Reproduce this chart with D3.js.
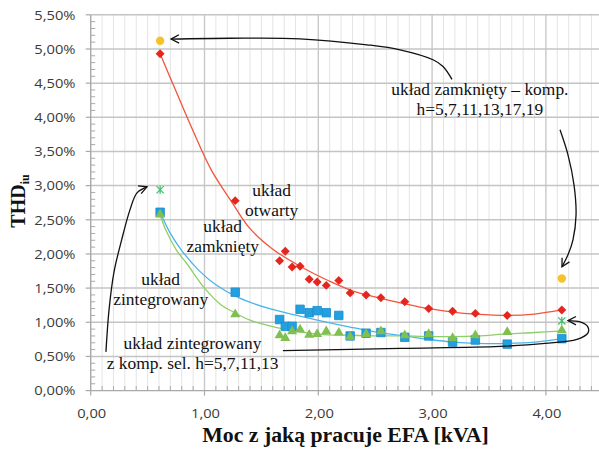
<!DOCTYPE html>
<html><head><meta charset="utf-8">
<script src="https://cdn.jsdelivr.net/npm/d3@7"></script>
<style>html,body{margin:0;padding:0;background:#fff;}svg{display:block;}</style>
</head><body>
<script>
// ---------- DATA ----------
const powerKVA = [0.61, 1.27, 1.66, 1.71, 1.77, 1.84, 1.92, 1.99, 2.07, 2.18, 2.28, 2.42, 2.55, 2.76, 2.97, 3.18, 3.38, 3.66, 4.14];
const thdOpen = [4.93, 2.78, 1.90, 2.04, 1.81, 1.82, 1.63, 1.59, 1.54, 1.61, 1.43, 1.40, 1.36, 1.30, 1.20, 1.16, 1.13, 1.10, 1.18];
const thdClosed = [2.61, 1.44, 1.04, 0.94, 0.94, 1.19, 1.14, 1.17, 1.14, 1.10, 0.80, 0.84, 0.85, 0.78, 0.80, 0.71, 0.74, 0.68, 0.76];
const thdIntegrated = [2.57, 1.11, 0.80, 0.76, 0.86, 0.885, 0.81, 0.82, 0.86, 0.84, 0.78, 0.82, 0.86, 0.80, 0.82, 0.76, 0.80, 0.85, 0.875];
const compPowerKVA = [0.61, 4.14];
const thdIntegratedComp = [2.94, 1.02];
const thdClosedComp = [5.12, 1.64];

// trend lines
const trendOpenX = [0.61, 0.75, 0.90, 1.063, 1.24, 1.40, 1.60, 1.84, 2.10, 2.30, 2.55, 2.76, 2.97, 3.18, 3.38, 3.66, 3.90, 4.14];
const trendOpenY = [4.93, 4.38, 3.80, 3.22, 2.76, 2.37, 2.07, 1.82, 1.60, 1.46, 1.35, 1.27, 1.20, 1.15, 1.12, 1.10, 1.12, 1.18];
const trendClosedX = [0.61, 0.70, 0.80, 0.95, 1.10, 1.30, 1.55, 1.84, 2.05, 2.28, 2.50, 2.76, 2.97, 3.18, 3.40, 3.66, 3.90, 4.14];
const trendClosedY = [2.61, 2.30, 2.05, 1.76, 1.55, 1.36, 1.21, 1.09, 1.01, 0.93, 0.86, 0.80, 0.75, 0.71, 0.69, 0.69, 0.71, 0.76];
const trendIntX = [0.61, 0.66, 0.756, 0.844, 1.00, 1.15, 1.253, 1.40, 1.547, 1.70, 1.84, 2.05, 2.28, 2.50, 2.76, 3.00, 3.18, 3.40, 3.66, 3.90, 4.14];
const trendIntY = [2.57, 2.35, 2.05, 1.86, 1.50, 1.25, 1.15, 1.03, 0.96, 0.90, 0.86, 0.82, 0.81, 0.80, 0.80, 0.79, 0.79, 0.80, 0.83, 0.85, 0.875];

const xTicks = [0, 1, 2, 3, 4];
const xTickLabels = ["0,00", "1,00", "2,00", "3,00", "4,00"];
const yTicks = [0, 0.5, 1, 1.5, 2, 2.5, 3, 3.5, 4, 4.5, 5, 5.5];
const yTickLabels = ["0,00%", "0,50%", "1,00%", "1,50%", "2,00%", "2,50%", "3,00%", "3,50%", "4,00%", "4,50%", "5,00%", "5,50%"];

const xTitle = "Moc z jaką pracuje EFA [kVA]";
const yTitleMain = "THD", yTitleSub = "iu";

// annotations (data units: kVA, %)
const labels = [
  {lines: ["układ", "otwarty"], at: [1.59, 2.85]},
  {lines: ["układ", "zamknięty"], at: [1.16, 2.32]},
  {lines: ["układ", "zintegrowany"], at: [0.615, 1.55]},
  {lines: ["układ zintegrowany", "z komp. sel. h=5,7,11,13"], at: [0.895, 0.61]},
  {lines: ["układ zamknięty – komp.", "h=5,7,11,13,17,19"], at: [3.42, 4.33]}
];
const arrowTop = [[3.175,4.555],[3.096,4.744],[3.008,4.842],[2.718,4.988],[2.428,5.061],[1.839,5.149],[1.224,5.157],[0.706,5.145]];
const arrowRight = [[4.124,3.817],[4.194,3.451],[4.247,3.012],[4.265,2.572],[4.238,2.207],[4.194,1.987],[4.141,1.811]];
const arrowLeft = [[0.134,0.567],[0.161,1.182],[0.205,1.738],[0.272,2.206],[0.345,2.645],[0.407,2.894],[0.495,2.982]];
const arrowBottom = [[1.689,0.586],[2.718,0.618],[3.597,0.647],[3.992,0.691],[4.273,0.750],[4.370,0.845],[4.366,0.940],[4.300,1.006],[4.194,1.025]];

// ---------- CHART ----------
const W = 599, H = 452, SX = 1.09;
const svg = d3.select("body").append("svg").attr("width", W).attr("height", H);
const x = d3.scaleLinear().domain([0, 4.5]).range([90.7, 602.8]);
const y = d3.scaleLinear().domain([0, 5.5]).range([390.6, 14.8]);

const defs = svg.append("defs");
defs.append("marker").attr("id", "ah").attr("viewBox", "-10 -6 12 12")
  .attr("refX", 0).attr("refY", 0).attr("markerWidth", 12).attr("markerHeight", 12)
  .attr("markerUnits", "userSpaceOnUse").attr("orient", "auto")
  .append("path").attr("d", "M-8,-4.2 L0,0 L-8,4.2").attr("fill", "none").attr("stroke", "#111").attr("stroke-width", 1.3);

// minor vertical gridlines
const minorX = d3.range(1, 46).map(i => i / 10).filter(v => Math.abs(v - Math.round(v)) > 1e-6);
svg.append("g").selectAll("line").data(minorX).join("line")
  .attr("x1", d => x(d)).attr("x2", d => x(d)).attr("y1", y(5.5)).attr("y2", y(0))
  .attr("stroke", "#e4e4e4").attr("stroke-width", 1);
// major vertical gridlines
svg.append("g").selectAll("line").data([1, 2, 3, 4]).join("line")
  .attr("x1", d => x(d)).attr("x2", d => x(d)).attr("y1", y(5.5)).attr("y2", y(0))
  .attr("stroke", "#c9c9c9").attr("stroke-width", 1.4);
// major horizontal gridlines
svg.append("g").selectAll("line").data(yTicks.filter(v => v > 0)).join("line")
  .attr("x1", x(0)).attr("x2", W).attr("y1", d => y(d)).attr("y2", d => y(d))
  .attr("stroke", "#c4c4c4").attr("stroke-width", 1.5);

// axes
const axisCol = "#a9a9a9";
svg.append("line").attr("x1", x(0)).attr("x2", W).attr("y1", y(0)).attr("y2", y(0)).attr("stroke", axisCol).attr("stroke-width", 1.4);
svg.append("line").attr("x1", x(0)).attr("x2", x(0)).attr("y1", y(5.5)).attr("y2", y(0)).attr("stroke", axisCol).attr("stroke-width", 1.4);
// ticks
const minorY = d3.range(1, 55).map(i => i / 10).filter(v => Math.abs(v * 2 - Math.round(v * 2)) > 1e-6);
svg.append("g").selectAll("line").data(minorY).join("line")
  .attr("x1", x(0)).attr("x2", x(0) + 4.5).attr("y1", d => y(d)).attr("y2", d => y(d)).attr("stroke", axisCol);
svg.append("g").selectAll("line").data(yTicks).join("line")
  .attr("x1", x(0) - 5).attr("x2", x(0)).attr("y1", d => y(d)).attr("y2", d => y(d)).attr("stroke", axisCol).attr("stroke-width", 1.2);
svg.append("g").selectAll("line").data(minorX).join("line")
  .attr("x1", d => x(d)).attr("x2", d => x(d)).attr("y1", y(0)).attr("y2", y(0) - 4.5).attr("stroke", axisCol);
svg.append("g").selectAll("line").data(xTicks).join("line")
  .attr("x1", d => x(d)).attr("x2", d => x(d)).attr("y1", y(0)).attr("y2", y(0) + 5).attr("stroke", axisCol).attr("stroke-width", 1.2);

// tick labels
const sans = "'Open Sans', 'DejaVu Sans', sans-serif";
svg.append("g").selectAll("text").data(yTicks).join("text")
  .attr("transform", d => `translate(75.5,${y(d) + 4.8}) scale(${SX},1)`)
  .attr("text-anchor", "end").attr("font-family", sans).attr("font-size", 13.5).attr("fill", "#3a3a3a")
  .text((d, i) => yTickLabels[i]);
svg.append("g").selectAll("text").data(xTicks).join("text")
  .attr("transform", d => `translate(${x(d) + 1},418) scale(${SX},1)`)
  .attr("text-anchor", "middle").attr("font-family", sans).attr("font-size", 13.5).attr("fill", "#3a3a3a")
  .text((d, i) => xTickLabels[i]);

// axis titles
const serif = "'Liberation Serif', 'Times New Roman', serif";
svg.append("text").attr("transform", `translate(345.5,442) scale(${SX},1)`)
  .attr("text-anchor", "middle").attr("font-family", serif).attr("font-weight", "bold").attr("font-size", 20).attr("fill", "#111")
  .text(xTitle);
const yt = svg.append("text").attr("transform", `translate(24.5,201) rotate(-90) scale(1,${SX})`)
  .attr("text-anchor", "middle").attr("font-family", serif).attr("font-weight", "bold").attr("font-size", 20).attr("fill", "#111");
yt.append("tspan").text(yTitleMain);
yt.append("tspan").attr("font-size", 12).attr("dy", 4).text(yTitleSub);

// trend lines
const trend = (xs, ys, col) => svg.append("path")
  .attr("d", d3.line().curve(d3.curveCatmullRom.alpha(0.5)).x(d => x(d[0])).y(d => y(d[1]))(xs.map((v, i) => [v, ys[i]])))
  .attr("fill", "none").attr("stroke", col).attr("stroke-width", 1.3);
trend(trendOpenX, trendOpenY, "#f2553b");
trend(trendClosedX, trendClosedY, "#48b5ea");
trend(trendIntX, trendIntY, "#8fce67");

// markers
const pts = (xs, ys) => xs.map((v, i) => [v, ys[i]]);
svg.append("g").selectAll("path").data(pts(powerKVA, thdOpen)).join("path")
  .attr("d", d3.symbol(d3.symbolSquare, 40)()).attr("transform", d => `translate(${x(d[0])},${y(d[1])}) rotate(45)`)
  .attr("fill", "#e4261f");
svg.append("g").selectAll("path").data(pts(powerKVA, thdClosed)).join("path")
  .attr("d", d3.symbol(d3.symbolSquare, 72)()).attr("transform", d => `translate(${x(d[0])},${y(d[1])})`)
  .attr("fill", "#22a0e0").attr("stroke", "#1a8ccc").attr("stroke-width", 0.8);
svg.append("g").selectAll("path").data(pts(powerKVA, thdIntegrated)).join("path")
  .attr("d", d3.symbol(d3.symbolTriangle, 44)()).attr("transform", d => `translate(${x(d[0])},${y(d[1]) - 0.5})`)
  .attr("fill", "#7fc050");
svg.append("g").selectAll("path").data(pts(compPowerKVA, thdIntegratedComp)).join("path")
  .attr("d", "M-3.6,-3.6L3.6,3.6M-3.6,3.6L3.6,-3.6M0,-4.2L0,4.2")
  .attr("transform", d => `translate(${x(d[0])},${y(d[1])})`)
  .attr("fill", "none").attr("stroke", "#3fbf6a").attr("stroke-width", 1.2);
svg.append("g").selectAll("circle").data(pts(compPowerKVA, thdClosedComp)).join("circle")
  .attr("cx", d => x(d[0])).attr("cy", d => y(d[1])).attr("r", 4.2).attr("fill", "#f5c22c");

// annotation arrows
const aline = d3.line().curve(d3.curveCatmullRom.alpha(0.5)).x(d => x(d[0])).y(d => y(d[1]));
[arrowTop, arrowRight, arrowLeft, arrowBottom].forEach(a => {
  svg.append("path").attr("d", aline(a)).attr("fill", "none").attr("stroke", "#111")
    .attr("stroke-width", 1.3).attr("marker-end", "url(#ah)");
});

// annotation labels
labels.forEach(l => {
  l.lines.forEach((s, i) => {
    svg.append("text").attr("transform", `translate(${x(l.at[0])},${y(l.at[1]) + i * 20}) scale(${SX},1)`)
      .attr("text-anchor", "middle").attr("font-family", serif).attr("font-size", 16).attr("fill", "#111").text(s);
  });
});
</script>
</body></html>
